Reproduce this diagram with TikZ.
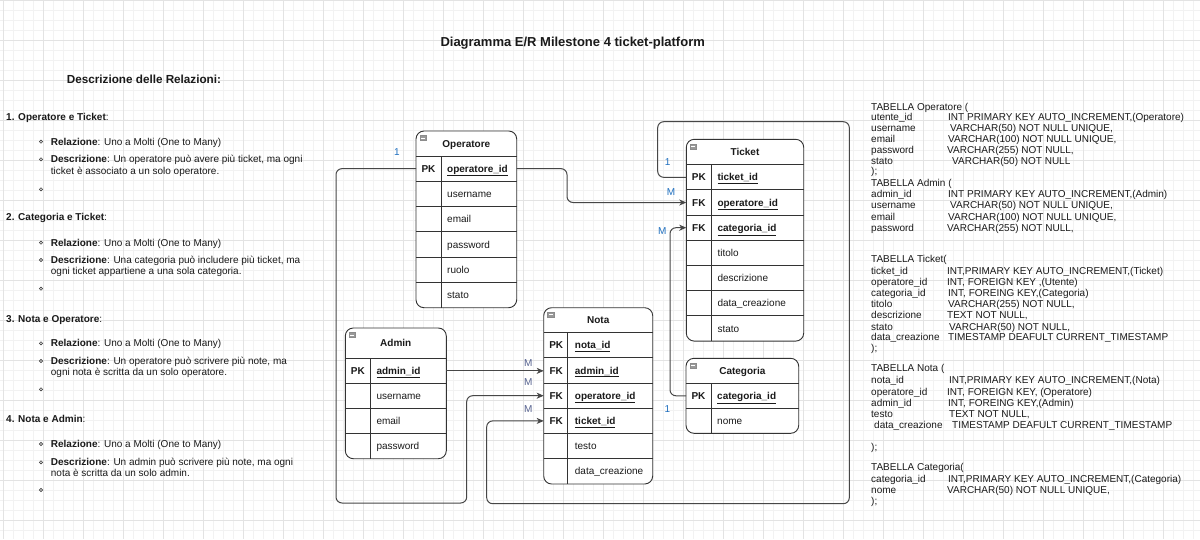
\documentclass[tikz,border=0pt]{standalone}
\usepackage{fontspec}
\setmainfont{Liberation Sans}
\usetikzlibrary{arrows.meta,calc}
\definecolor{lblblue}{HTML}{1F6FBF}
\definecolor{lblgray}{HTML}{56628F}
\definecolor{txtdark}{HTML}{1A1A1A}
\tikzset{
 minorgrid/.style={draw=black!5, line width=0.7pt},
 majorgrid/.style={draw=black!11, line width=0.7pt},
 tblbox/.style={draw=black!80, fill=white, line width=0.9pt, rounded corners=8pt, anchor=north west, inner sep=0pt, outer sep=0pt},
 tline/.style={draw=black!80, line width=0.9pt},
 rowcell/.style={inner sep=0pt, outer sep=0pt, anchor=north west},
 keytxt/.style={font=\fontsize{10}{12}\selectfont\bfseries, text=txtdark, inner sep=0pt, text height=7pt, text depth=0pt},
 fieldtxt/.style={font=\fontsize{10}{12}\selectfont, text=txtdark, inner sep=0pt, anchor=west, text height=7pt, text depth=0pt},
 ttl/.style={font=\fontsize{10}{12}\selectfont\bfseries, text=txtdark, inner sep=0pt, text height=7pt, text depth=0pt},
 conn/.style={draw=black!72, line width=1pt, rounded corners=6pt},
 arr/.style={-{Stealth[length=7pt,width=6pt,inset=2pt]}},
 lbl/.style={font=\fontsize{10}{12}\selectfont, text=lblblue, inner sep=0pt},
 lblg/.style={font=\fontsize{10}{12}\selectfont, text=lblgray, inner sep=0pt},
 minusbox/.style={draw=black!45, fill=black!40, minimum width=6.5pt, minimum height=5pt, inner sep=0pt,
   path picture={\draw[white, line width=0.7pt] ([xshift=1.3pt]path picture bounding box.west) -- ([xshift=-1.3pt]path picture bounding box.east);}},
 lefttxt/.style={font=\fontsize{10}{12}\selectfont, text=txtdark, anchor=west, inner sep=0pt, text height=7pt, text depth=0pt},
 sqltxt/.style={font=\fontsize{10}{12}\selectfont, text=txtdark, anchor=west, inner sep=0pt, text height=7pt, text depth=0pt},
 bul/.style={draw=black!75, line width=0.6pt},
}
% row: name, left x, top y, width, height, key, field
\newcommand{\ERrow}[7]{%
 \node[rowcell, minimum width=#4pt, minimum height=#5pt] (#1) at (#2,#3) {};
 \draw[tline] (#1.north west) -- (#1.north east);
 \node[keytxt] at ($(#1.west)+(12.5,0)$) {#6};
 \node[fieldtxt] at ($(#1.west)+(31,0)$) {#7};
}
\newcommand{\kf}[1]{\bfseries\underline{#1}}
% sql line: y, col1, x2, col2
\newcommand{\SQLl}[4]{%
 \node[sqltxt] at (871,#1) {#2};
 \node[sqltxt] at (#3,#1) {#4};
}
\begin{document}
\begin{tikzpicture}[x=1pt,y=-1pt]
\useasboundingbox (0,0) rectangle (1200,539);
\fill[white] (0,0) rectangle (1200,539);
\foreach \i in {0,...,119} \draw[minorgrid] ({3+10*\i},0) -- ({3+10*\i},539);
\foreach \j in {0,...,53} \draw[minorgrid] (0,{0.7+10*\j}) -- (1200,{0.7+10*\j});
\foreach \i in {0,...,29} \draw[majorgrid] ({3+40*\i},0) -- ({3+40*\i},539);
\foreach \j in {0,...,13} \draw[majorgrid] (0,{0.7+40*\j}) -- (1200,{0.7+40*\j});

% title
\node[font=\fontsize{13}{15}\selectfont\bfseries, text=txtdark, inner sep=0pt] (title) at (572.7,43.3) {Diagramma E/R Milestone 4 ticket-platform};

% left panel
\node[font=\fontsize{11.7}{14}\selectfont\bfseries, text=txtdark, inner sep=0pt] (desc) at (144,79) {Descrizione delle Relazioni:};

\node[lefttxt] (s1) at (6,116.7) {{\bfseries 1. Operatore e Ticket}:};
\draw[bul] (41,141.7) circle (1.6pt);
\node[lefttxt] (s1a) at (50.7,141.7) {{\bfseries Relazione}: Uno a Molti (One to Many)};
\draw[bul] (41,159.3) circle (1.6pt);
\node[lefttxt] (s1b) at (50.7,159.3) {{\bfseries Descrizione}: Un operatore può avere più ticket, ma ogni};
\node[lefttxt] (s1c) at (50.7,170.7) {ticket è associato a un solo operatore.};
\draw[bul] (41,189.3) circle (1.6pt);

\node[lefttxt] (s2) at (6,217.3) {{\bfseries 2. Categoria e Ticket}:};
\draw[bul] (41,242.7) circle (1.6pt);
\node[lefttxt] (s2a) at (50.7,242.7) {{\bfseries Relazione}: Uno a Molti (One to Many)};
\draw[bul] (41,260) circle (1.6pt);
\node[lefttxt] (s2b) at (50.7,260) {{\bfseries Descrizione}: Una categoria può includere più ticket, ma};
\node[lefttxt] (s2c) at (50.7,271.3) {ogni ticket appartiene a una sola categoria.};
\draw[bul] (41,288.7) circle (1.6pt);

\node[lefttxt] (s3) at (6,319) {{\bfseries 3. Nota e Operatore}:};
\draw[bul] (41,343.3) circle (1.6pt);
\node[lefttxt] (s3a) at (50.7,343.3) {{\bfseries Relazione}: Uno a Molti (One to Many)};
\draw[bul] (41,361) circle (1.6pt);
\node[lefttxt] (s3b) at (50.7,361) {{\bfseries Descrizione}: Un operatore può scrivere più note, ma};
\node[lefttxt] (s3c) at (50.7,372.3) {ogni nota è scritta da un solo operatore.};
\draw[bul] (41,389.3) circle (1.6pt);

\node[lefttxt] (s4) at (6,419.3) {{\bfseries 4. Nota e Admin}:};
\draw[bul] (41,444) circle (1.6pt);
\node[lefttxt] (s4a) at (50.7,444) {{\bfseries Relazione}: Uno a Molti (One to Many)};
\draw[bul] (41,462.3) circle (1.6pt);
\node[lefttxt] (s4b) at (50.7,462.3) {{\bfseries Descrizione}: Un admin può scrivere più note, ma ogni};
\node[lefttxt] (s4c) at (50.7,473.3) {nota è scritta da un solo admin.};
\draw[bul] (41,490) circle (1.6pt);

% ---------- connector bend points
\coordinate (opL) at (336,503);
\coordinate (opR) at (466.7,503);
\coordinate (loopTL) at (657.7,121.7);
\coordinate (loopTR) at (849.3,121.7);
\coordinate (loopBR) at (849.3,503.7);
\coordinate (loopBL) at (486.7,503.7);

% ---------- Operatore
\node[tblbox, minimum width=100.7pt, minimum height=176.7pt] (op) at (416,131) {};
\node[ttl] (op-t) at ($(op.north)+(0,12.5)$) {Operatore};
\node[minusbox] (op-i) at ($(op.north west)+(7,7)$) {};
\ERrow{op-pk}{416}{156}{100.7}{25.3}{PK}{\kf{operatore\_id}}
\ERrow{op-2}{416}{181.3}{100.7}{25.3}{}{username}
\ERrow{op-3}{416}{206.6}{100.7}{25.3}{}{email}
\ERrow{op-4}{416}{231.9}{100.7}{25.3}{}{password}
\ERrow{op-5}{416}{257.2}{100.7}{25.3}{}{ruolo}
\ERrow{op-6}{416}{282.5}{100.7}{25.3}{}{stato}
\draw[tline] ($(op-pk.north west)+(25,0)$) -- ($(op.south west)+(25,0)$);

% ---------- Ticket
\node[tblbox, minimum width=117.4pt, minimum height=201.8pt] (tk) at (686.3,139.3) {};
\node[ttl] (tk-t) at ($(tk.north)+(0,12.7)$) {Ticket};
\node[minusbox] (tk-i) at ($(tk.north west)+(7,7)$) {};
\ERrow{tk-pk}{686.3}{164.7}{117.4}{25.2}{PK}{\kf{ticket\_id}}
\ERrow{tk-op}{686.3}{189.9}{117.4}{25.2}{FK}{\kf{operatore\_id}}
\ERrow{tk-cat}{686.3}{215.1}{117.4}{25.2}{FK}{\kf{categoria\_id}}
\ERrow{tk-4}{686.3}{240.3}{117.4}{25.2}{}{titolo}
\ERrow{tk-5}{686.3}{265.5}{117.4}{25.2}{}{descrizione}
\ERrow{tk-6}{686.3}{290.7}{117.4}{25.2}{}{data\_creazione}
\ERrow{tk-7}{686.3}{315.9}{117.4}{25.2}{}{stato}
\draw[tline] ($(tk-pk.north west)+(25,0)$) -- ($(tk.south west)+(25,0)$);

% ---------- Nota
\node[tblbox, minimum width=109pt, minimum height=176.3pt] (nt) at (543.7,307.7) {};
\node[ttl] (nt-t) at ($(nt.north)+(0,12.5)$) {Nota};
\node[minusbox] (nt-i) at ($(nt.north west)+(7,7)$) {};
\ERrow{nt-pk}{543.7}{332.7}{109}{25.2}{PK}{\kf{nota\_id}}
\ERrow{nt-ad}{543.7}{357.9}{109}{25.2}{FK}{\kf{admin\_id}}
\ERrow{nt-op}{543.7}{383.1}{109}{25.2}{FK}{\kf{operatore\_id}}
\ERrow{nt-tk}{543.7}{408.3}{109}{25.2}{FK}{\kf{ticket\_id}}
\ERrow{nt-5}{543.7}{433.5}{109}{25.2}{}{testo}
\ERrow{nt-6}{543.7}{458.7}{109}{25.2}{}{data\_creazione}
\draw[tline] ($(nt-pk.north west)+(24,0)$) -- ($(nt.south west)+(24,0)$);

% ---------- Admin
\node[tblbox, minimum width=101pt, minimum height=130.7pt] (ad) at (345.3,328) {};
\node[ttl] (ad-t) at ($(ad.north)+(0,15)$) {Admin};
\node[minusbox] (ad-i) at ($(ad.north west)+(7,7)$) {};
\ERrow{ad-pk}{345.3}{358.3}{101}{25.1}{PK}{\kf{admin\_id}}
\ERrow{ad-2}{345.3}{383.4}{101}{25.1}{}{username}
\ERrow{ad-3}{345.3}{408.5}{101}{25.1}{}{email}
\ERrow{ad-4}{345.3}{433.6}{101}{25.1}{}{password}
\draw[tline] ($(ad-pk.north west)+(25,0)$) -- ($(ad.south west)+(25,0)$);

% ---------- Categoria
\node[tblbox, minimum width=112.7pt, minimum height=75pt] (ct) at (686,358.3) {};
\node[ttl] (ct-t) at ($(ct.north)+(0,12.5)$) {Categoria};
\node[minusbox] (ct-i) at ($(ct.north west)+(7,7)$) {};
\ERrow{ct-pk}{686}{383.3}{112.7}{25}{PK}{\kf{categoria\_id}}
\ERrow{ct-2}{686}{408.3}{112.7}{25}{}{nome}
\draw[tline] ($(ct-pk.north west)+(25,0)$) -- ($(ct.south west)+(25,0)$);

% ---------- connectors
\draw[conn,arr] (op-pk.west) -| (opL) -- (opR) |- (nt-op.west);
\draw[conn,arr] (op-pk.east) -- ++(50.3,0) |- (tk-op.west);
\draw[conn,arr] (tk-pk.west) -| (loopTL) -- (loopTR) -- (loopBR) -- (loopBL) |- (nt-tk.west);
\draw[conn,arr] (ct-pk.west) -- ++(-16,0) |- (tk-cat.west);
\draw[conn,arr] (ad-pk.east) -- (ad-pk.east -| nt-ad.west);

% ---------- cardinality labels
\node[lbl] (c1) at (397,152) {1};
\node[lbl] (c2) at (671,191.7) {M};
\node[lbl] (c3) at (667.7,162) {1};
\node[lbl] (c4) at (662.3,231) {M};
\node[lbl] (c5) at (667.3,409) {1};
\node[lblg] (c6) at (528.3,362.7) {M};
\node[lblg] (c7) at (528.3,382.3) {M};
\node[lblg] (c8) at (528.3,409) {M};

% ---------- right panel SQL
\node[sqltxt] (q1) at (871,106.7) {TABELLA Operatore (};
\SQLl{117}{utente\_id}{948}{INT PRIMARY KEY AUTO\_INCREMENT,(Operatore)}
\SQLl{128}{username}{950}{VARCHAR(50) NOT NULL UNIQUE,}
\SQLl{139}{email}{948}{VARCHAR(100) NOT NULL UNIQUE,}
\SQLl{150}{password}{947}{VARCHAR(255) NOT NULL,}
\SQLl{161}{stato}{952}{VARCHAR(50) NOT NULL}
\node[sqltxt] (q2) at (871,171) {);};
\node[sqltxt] (q3) at (871,183) {TABELLA Admin (};
\SQLl{194}{admin\_id}{948}{INT PRIMARY KEY AUTO\_INCREMENT,(Admin)}
\SQLl{205}{username}{950}{VARCHAR(50) NOT NULL UNIQUE,}
\SQLl{217}{email}{948}{VARCHAR(100) NOT NULL UNIQUE,}
\SQLl{228}{password}{947}{VARCHAR(255) NOT NULL,}

\node[sqltxt] (q4) at (871,259) {TABELLA Ticket(};
\SQLl{271}{ticket\_id}{947}{INT,PRIMARY KEY AUTO\_INCREMENT,(Ticket)}
\SQLl{282}{operatore\_id}{947}{INT, FOREIGN KEY ,(Utente)}
\SQLl{293}{categoria\_id}{948}{INT, FOREING KEY,(Categoria)}
\SQLl{304}{titolo}{948}{VARCHAR(255) NOT NULL,}
\SQLl{315}{descrizione}{947}{TEXT NOT NULL,}
\SQLl{327}{stato}{949}{VARCHAR(50) NOT NULL,}
\SQLl{337}{data\_creazione}{948}{TIMESTAMP DEAFULT CURRENT\_TIMESTAMP}
\node[sqltxt] (q5) at (871,348) {);};

\node[sqltxt] (q6) at (871,368) {TABELLA Nota (};
\SQLl{380}{nota\_id}{949}{INT,PRIMARY KEY AUTO\_INCREMENT,(Nota)}
\SQLl{392}{operatore\_id}{947}{INT, FOREIGN KEY, (Operatore)}
\SQLl{403}{admin\_id}{948}{INT, FOREING KEY,(Admin)}
\SQLl{414}{testo}{949}{TEXT NOT NULL,}
\node[sqltxt] (q7) at (874,425) {data\_creazione};
\node[sqltxt] (q8) at (952,425) {TIMESTAMP DEAFULT CURRENT\_TIMESTAMP};
\node[sqltxt] (q9) at (871,447) {);};

\node[sqltxt] (q10) at (871,467) {TABELLA Categoria(};
\SQLl{479}{categoria\_id}{948}{INT,PRIMARY KEY AUTO\_INCREMENT,(Categoria)}
\SQLl{490}{nome}{947}{VARCHAR(50) NOT NULL UNIQUE,}
\node[sqltxt] (q11) at (871,501) {);};
\end{tikzpicture}
\end{document}
